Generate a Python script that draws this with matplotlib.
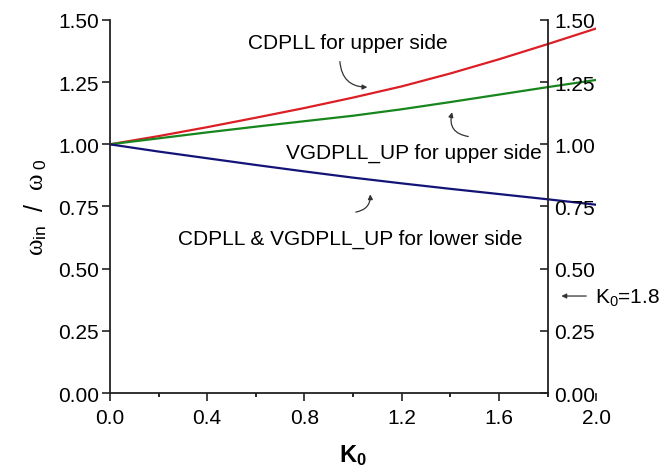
import matplotlib.pyplot as plt
import numpy as np

plt.rcParams['font.family'] = ['Liberation Sans', 'DejaVu Sans']
plt.rcParams['mathtext.fontset'] = 'custom'
plt.rcParams['mathtext.rm'] = 'Liberation Sans'
plt.rcParams['mathtext.it'] = 'Liberation Serif'
plt.rcParams['mathtext.bf'] = 'Liberation Sans:bold'

# data
k0 = [0.0, 0.2, 0.4, 0.6, 0.8, 1.0, 1.2, 1.4, 1.6, 1.8, 2.0]
cdpll_upper = [1.000, 1.033, 1.069, 1.107, 1.146, 1.188, 1.233, 1.285, 1.342, 1.403, 1.466]
vgdpll_upper = [1.000, 1.024, 1.048, 1.071, 1.093, 1.115, 1.141, 1.170, 1.200, 1.230, 1.259]
lower_side = [1.000, 0.971, 0.944, 0.917, 0.891, 0.866, 0.843, 0.821, 0.800, 0.779, 0.757]
y_ticks = [0.0, 0.25, 0.5, 0.75, 1.0, 1.25, 1.5]
x_ticks = [0.0, 0.4, 0.8, 1.2, 1.6, 2.0]
k_mark = 1.8

fig = plt.figure(figsize=(6.7, 4.77), dpi=100)
ax = fig.add_axes([0.164, 0.174, 0.726, 0.782])

ax.plot(k0, cdpll_upper, color='#dc1f26', linewidth=1.6)
ax.plot(k0, vgdpll_upper, color='#17861d', linewidth=1.6)
ax.plot(k0, lower_side, color='#141478', linewidth=1.6)

ax.set_xlim(0, 2.0)
ax.set_ylim(0, 1.5)
ax.set_xticks(x_ticks)
ax.set_xticks(np.arange(0.2, 2.0, 0.4), minor=True)
ax.set_yticks(y_ticks)
ax.set_xticklabels([f'{v:.1f}' for v in x_ticks])
ax.set_yticklabels([f'{v:.2f}' for v in y_ticks])
ax.tick_params(axis='both', which='major', direction='out', length=6, width=1.2,
               labelsize=15, color='#222222')
ax.tick_params(axis='x', which='minor', direction='out', length=3, width=1.2)
ax.tick_params(axis='x', pad=5)
ax.tick_params(axis='y', pad=2)
for s in ['top', 'right']:
    ax.spines[s].set_visible(False)
ax.spines['bottom'].set_bounds(0, k_mark)
for s in ['left', 'bottom']:
    ax.spines[s].set_linewidth(1.3)
    ax.spines[s].set_color('#222222')

# right axis at K0 = 1.8
ax2 = ax.twinx()
ax2.set_ylim(0, 1.5)
ax2.set_yticks(y_ticks)
ax2.set_yticklabels([f'{v:.2f}' for v in y_ticks])
for s in ['top', 'left', 'bottom']:
    ax2.spines[s].set_visible(False)
ax2.spines['right'].set_position(('data', k_mark))
ax2.spines['right'].set_linewidth(1.3)
ax2.spines['right'].set_color('#222222')
ax2.tick_params(axis='y', direction='in', length=6, width=1.2, labelsize=15,
                pad=5, color='#222222')

ax.set_xlabel(r'$\mathbf{K}_{\mathbf{0}}$', fontsize=17, labelpad=11)
ax.set_ylabel(r'$\omega_{\rm in}$  /  $\omega_{\rm \ 0}$', fontsize=18, labelpad=6)

ax.text(0.98, 1.389, 'CDPLL for upper side', fontsize=15, ha='center', va='baseline')
ax.text(1.25, 0.948, 'VGDPLL_UP for upper side', fontsize=15, ha='center', va='baseline')
ax.text(0.99, 0.599, 'CDPLL & VGDPLL_UP for lower side', fontsize=15, ha='center', va='baseline')

arrow = dict(arrowstyle='-|>', color='#333333', lw=0.9, mutation_scale=7)
ax.annotate('', xy=(1.07, 1.23), xytext=(0.945, 1.344),
            arrowprops=dict(arrow, connectionstyle='arc3,rad=0.5'))
ax.annotate('', xy=(1.41, 1.14), xytext=(1.485, 1.03),
            arrowprops=dict(arrow, connectionstyle='arc3,rad=-0.6'))
ax.annotate('', xy=(1.07, 0.81), xytext=(1.0, 0.726),
            arrowprops=dict(arrow, connectionstyle='arc3,rad=0.5'))
ax.annotate('', xy=(1.845, 0.39), xytext=(1.97, 0.39),
            arrowprops=dict(arrow), annotation_clip=False)
ax.text(1.995, 0.39, r'K$_0$=1.8', fontsize=15, ha='left', va='center')

fig.savefig('out.png', dpi=100)
